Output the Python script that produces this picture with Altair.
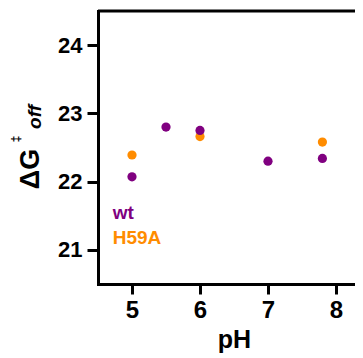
import altair as alt
import pandas as pd

# Data
wt_ph = [5.0, 5.5, 6.0, 7.0, 7.8]
wt_dg = [22.07, 22.80, 22.75, 22.30, 22.34]
h59a_ph = [5.0, 6.0, 7.8]
h59a_dg = [22.39, 22.66, 22.58]
series_names = ["wt", "H59A"]
series_colors = ["#800080", "#FF8C00"]
x_ticks = [5, 6, 7, 8]
y_ticks = [21, 22, 23, 24]

rows = []
for p, d in zip(h59a_ph, h59a_dg):
    rows.append({"pH": p, "dG": d, "series": "H59A"})
for p, d in zip(wt_ph, wt_dg):
    rows.append({"pH": p, "dG": d, "series": "wt"})
df = pd.DataFrame(rows)

W, H = 257, 273
FONT = "Liberation Sans"
one = pd.DataFrame({"k": [0]})

xscale = alt.Scale(domain=[4.5, 4.5 + W / 68.0], nice=False, zero=False)
yscale = alt.Scale(domain=[20.5, 24.5], nice=False, zero=False)

points = alt.Chart(df).mark_circle(size=85, opacity=1).encode(
    x=alt.X("pH:Q", scale=xscale,
            axis=alt.Axis(values=x_ticks, title="pH", labelFontSize=24,
                          labelPadding=4, tickSize=10, titleFontSize=25,
                          titlePadding=5, titleX=136, format="d")),
    y=alt.Y("dG:Q", scale=yscale,
            axis=alt.Axis(values=y_ticks, title=None, labelFontSize=22,
                          labelPadding=5, tickSize=11, format="d")),
    color=alt.Color("series:N", scale=alt.Scale(domain=series_names, range=series_colors),
                    legend=None),
)

top_line = alt.Chart(one).mark_rule(color="black", strokeWidth=3).encode(
    x=alt.value(0), x2=alt.value(W + 10), y=alt.value(0)
)

leg_wt = alt.Chart(one).mark_text(
    align="left", baseline="alphabetic", font=FONT, fontSize=19, fontWeight="bold",
    color=series_colors[0]
).encode(x=alt.value(14.7), y=alt.value(208), text=alt.value(series_names[0]))

leg_h = alt.Chart(one).mark_text(
    align="left", baseline="alphabetic", font=FONT, fontSize=19, fontWeight="bold",
    color=series_colors[1]
).encode(x=alt.value(14.7), y=alt.value(233), text=alt.value(series_names[1]))

yt_main = alt.Chart(one).mark_text(
    angle=270, align="center", baseline="alphabetic", font=FONT, fontSize=27,
    fontWeight="bold", color="black"
).encode(x=alt.value(-59), y=alt.value(158), text=alt.value("ΔG"))

yt_sup = alt.Chart(one).mark_text(
    angle=270, align="center", baseline="alphabetic", font=FONT, fontSize=12,
    fontWeight="bold", color="black"
).encode(x=alt.value(-78), y=alt.value(128), text=alt.value("‡"))

yt_sub = alt.Chart(one).mark_text(
    angle=270, align="center", baseline="alphabetic", font=FONT, fontSize=19,
    fontWeight="bold", fontStyle="italic", color="black"
).encode(x=alt.value(-57), y=alt.value(106), text=alt.value("off"))

chart = alt.layer(points, top_line, leg_wt, leg_h, yt_main, yt_sup, yt_sub).properties(
    width=W, height=H,
    padding={"left": 90, "top": 3, "right": 0, "bottom": 74},
    autosize=alt.AutoSizeParams(type="none"),
).configure_view(stroke="transparent").configure_axis(
    grid=False, domain=True, domainColor="black", domainWidth=3,
    tickColor="black", tickWidth=3, labelFont=FONT, labelFontWeight="bold",
    labelColor="black", titleFont=FONT, titleFontWeight="bold", titleColor="black",
    domainCap="square",
)

chart.save("out.html", embed_options={"renderer": "svg", "actions": False})
